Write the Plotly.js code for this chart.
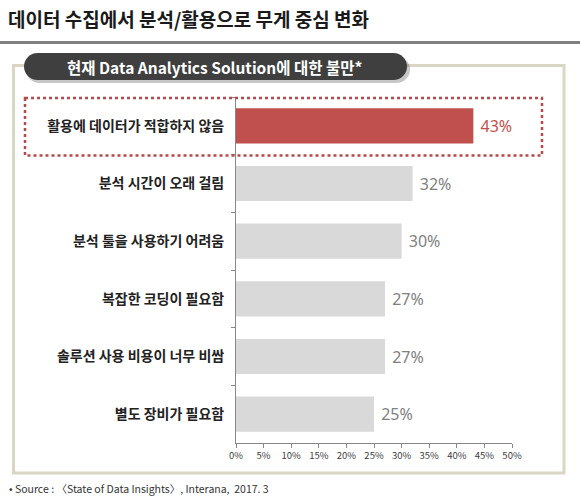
<!DOCTYPE html>
<html>
<head>
<meta charset="utf-8">
<script src="https://cdn.plot.ly/plotly-3.0.1.min.js"></script>
<style>html,body{margin:0;padding:0;background:#fff;}#chart{width:580px;height:500px;}</style>
</head>
<body>
<div id="chart"></div>
<script>
// ---- data ----
const categories = ["활용에 데이터가 적합하지 않음", "분석 시간이 오래 걸림", "분석 툴을 사용하기 어려움", "복잡한 코딩이 필요함", "솔루션 사용 비용이 너무 비쌈", "별도 장비가 필요함"];
const values = [43, 32, 30, 27, 27, 25];
const highlight = [true, false, false, false, false, false];
const xTickValues = [0, 5, 10, 15, 20, 25, 30, 35, 40, 45, 50];
const xTickLabels = ["0%", "5%", "10%", "15%", "20%", "25%", "30%", "35%", "40%", "45%", "50%"];
const chartTitle = "데이터 수집에서 분석/활용으로 무게 중심 변화";
const subTitle = "현재 Data Analytics Solution에 대한 불만*";
const sourceText = "• Source : 〈State of Data Insights〉, Interana,  2017. 3";

// ---- layout helpers (pixel -> paper) ----
const W = 580, H = 500;
const M = {l: 236, r: 68, t: 97, b: 57};
const PW = W - M.l - M.r, PH = H - M.t - M.b;
const px = x => (x - M.l) / PW;
const py = y => (H - M.b - y) / PH;

function pillPath(x0, y0, x1, y1) {
  const r = (y1 - y0) / 2, k = 0.5523 * r;
  const pts = [
    ['M', x0 + r, y0],
    ['L', x1 - r, y0],
    ['C', x1 - r + k, y0, x1, y0 + r - k, x1, y0 + r],
    ['C', x1, y1 - r + k, x1 - r + k, y1, x1 - r, y1],
    ['L', x0 + r, y1],
    ['C', x0 + r - k, y1, x0, y1 - r + k, x0, y0 + r],
    ['C', x0, y0 + r - k, x0 + r - k, y0, x0 + r, y0]
  ];
  return pts.map(p => {
    const c = p[0], a = p.slice(1);
    const out = [];
    for (let i = 0; i < a.length; i += 2) out.push(px(a[i]).toFixed(5) + ',' + py(a[i + 1]).toFixed(5));
    return c + out.join(' ');
  }).join(' ') + ' Z';
}

const FONT = "'Noto Sans CJK KR', 'Noto Sans', sans-serif";
const barColors = highlight.map(h => h ? '#c0504d' : '#d9d9d9');
const textColors = highlight.map(h => h ? '#c0504d' : '#808080');
const valueLabels = values.map(v => v + '%');

const trace = {
  type: 'bar',
  orientation: 'h',
  y: categories,
  x: values,
  text: valueLabels,
  marker: {color: barColors},
  texttemplate: '\u00a0%{text}',
  textposition: 'outside',
  textfont: {family: "'Noto Sans', sans-serif", size: 16, color: textColors},
  cliponaxis: false,
  hoverinfo: 'none'
};

const layout = {
  width: W, height: H,
  margin: M,
  paper_bgcolor: '#ffffff',
  plot_bgcolor: 'rgba(0,0,0,0)',
  showlegend: false,
  bargap: 0.39,
  font: {family: FONT, color: '#222'},
  title: {
    text: '<b>' + chartTitle + '</b>',
    font: {family: FONT, size: 19, color: '#1a1a1a'},
    x: 8 / W, xanchor: 'left', xref: 'container',
    y: 1 - 20 / H, yanchor: 'middle', yref: 'container'
  },
  xaxis: {
    range: [0, 50],
    tickvals: xTickValues,
    ticktext: xTickLabels,
    ticks: 'outside', ticklen: 4, tickcolor: '#888', tickwidth: 1,
    showline: true, linecolor: '#888', linewidth: 1,
    showgrid: false, zeroline: false,
    tickfont: {family: FONT, size: 9.5, color: '#404040'},
    fixedrange: true
  },
  yaxis: {
    autorange: 'reversed',
    type: 'category',
    ticks: 'outside', tickson: 'boundaries', ticklen: 4, tickcolor: '#888', tickwidth: 1,
    showline: true, linecolor: '#888', linewidth: 1,
    showgrid: false, zeroline: false,
    ticklabelstandoff: 8,
    tickfont: {family: FONT, size: 14, color: '#222', weight: 'bold'},
    fixedrange: true
  },
  shapes: [
    {type: 'line', xref: 'paper', yref: 'paper', x0: px(0), x1: px(580), y0: py(42.5), y1: py(42.5),
     line: {color: '#808080', width: 3}, layer: 'above'},
    {type: 'rect', xref: 'paper', yref: 'paper', x0: px(13.5), x1: px(564), y0: py(65.5), y1: py(473),
     line: {color: '#d9d6c3', width: 3}, fillcolor: 'rgba(0,0,0,0)', layer: 'below'},
    {type: 'path', xref: 'paper', yref: 'paper', path: pillPath(26, 56, 410, 83),
     line: {width: 0}, fillcolor: 'rgba(0,0,0,0.22)', layer: 'above'},
    {type: 'path', xref: 'paper', yref: 'paper', path: pillPath(24, 53, 407, 80),
     line: {width: 0}, fillcolor: '#3f3f3f', layer: 'above'},
    {type: 'rect', xref: 'paper', yref: 'paper', x0: px(25), x1: px(542), y0: py(98), y1: py(155.5),
     line: {color: '#b5494b', width: 2.5, dash: 'dot'}, fillcolor: 'rgba(0,0,0,0)', layer: 'above'}
  ],
  annotations: [
    {xref: 'paper', yref: 'paper', x: px(215), y: py(67), xanchor: 'center', yanchor: 'middle',
     text: '<b>' + subTitle + '</b>', showarrow: false,
     font: {family: FONT, size: 15.5, color: '#ffffff'}},
    {xref: 'paper', yref: 'paper', x: px(7), y: py(488), xanchor: 'left', yanchor: 'middle',
     text: sourceText, showarrow: false,
     font: {family: FONT, size: 10.5, color: '#333'}}
  ]
};

Plotly.newPlot('chart', [trace], layout, {displayModeBar: false, staticPlot: true});
</script>
</body>
</html>
